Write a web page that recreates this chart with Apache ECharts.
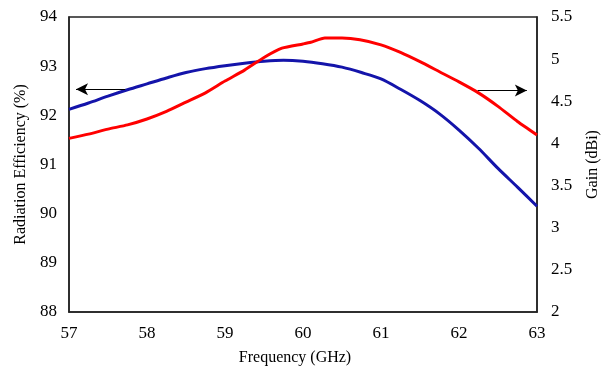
<!DOCTYPE html>
<html>
<head>
<meta charset="utf-8">
<script src="https://cdn.jsdelivr.net/npm/echarts@6/dist/echarts.min.js"></script>
<style>html,body{margin:0;padding:0;background:#fff}#c{width:614px;height:371px}</style>
</head>
<body>
<div id="c"></div>
<script>
// Frequency (GHz) sample points and values
const effFreq = [57, 57.25, 57.5, 57.75, 58, 58.25, 58.5, 58.75, 59, 59.25, 59.5, 59.75, 60, 60.25, 60.5, 60.75, 61, 61.25, 61.5, 61.75, 62, 62.25, 62.5, 62.75, 63];
const efficiency = [92.12, 92.25, 92.39, 92.52, 92.64, 92.76, 92.87, 92.95, 93.01, 93.06, 93.10, 93.12, 93.10, 93.05, 92.98, 92.87, 92.74, 92.53, 92.30, 92.03, 91.70, 91.33, 90.92, 90.54, 90.15];
const gainFreq = [57, 57.25, 57.5, 57.75, 58, 58.25, 58.5, 58.75, 59, 59.25, 59.5, 59.73, 60, 60.1, 60.28, 60.5, 60.73, 61, 61.25, 61.5, 61.75, 62, 62.25, 62.5, 62.75, 63];
const gain = [4.06, 4.11, 4.17, 4.22, 4.29, 4.38, 4.49, 4.60, 4.74, 4.87, 5.02, 5.13, 5.18, 5.20, 5.25, 5.25, 5.23, 5.17, 5.08, 4.97, 4.85, 4.73, 4.60, 4.44, 4.26, 4.10];
// arrow annotations [fromX, toX, y]
const effArrow = [57.72, 57.09, 92.53];
const gainArrow = [62.24, 62.87, 4.628];

const font = 'Liberation Serif';
const chart = echarts.init(document.getElementById('c'), null, {renderer: 'canvas'});
const zip = (xs, ys) => xs.map((x, i) => [x, ys[i]]);
const arrowLine = (a) => ({
  silent: true,
  symbol: ['none', 'arrow'],
  symbolSize: [9, 12],
  lineStyle: {color: '#000', width: 1, type: 'solid'},
  label: {show: false},
  emphasis: {disabled: true},
  data: [[{coord: [a[0], a[2]]}, {coord: [a[1], a[2]]}]]
});
chart.setOption({
  animation: false,
  backgroundColor: '#fff',
  textStyle: {fontFamily: font},
  grid: {left: 69, right: 77, top: 17, bottom: 57, show: true, borderColor: '#222', borderWidth: 1.5, backgroundColor: 'transparent'},
  xAxis: {
    type: 'value', min: 57, max: 63, interval: 1,
    name: 'Frequency (GHz)', nameLocation: 'middle', nameGap: 38,
    nameTextStyle: {fontFamily: font, fontSize: 16, color: '#000', padding: [0, 16, 0, 0]},
    axisLine: {show: true, lineStyle: {color: '#222', width: 1.5}},
    axisTick: {show: false},
    splitLine: {show: false},
    axisLabel: {fontFamily: font, fontSize: 17, color: '#000', margin: 13}
  },
  yAxis: [{
    type: 'value', min: 88, max: 94, interval: 1, position: 'left',
    name: 'Radiation Efficiency (%)', nameLocation: 'middle', nameGap: 37,
    nameTextStyle: {fontFamily: font, fontSize: 16, color: '#000'},
    axisLine: {show: true, lineStyle: {color: '#222', width: 1.5}},
    axisTick: {show: false},
    splitLine: {show: false},
    axisLabel: {fontFamily: font, fontSize: 17, color: '#000', margin: 12}
  }, {
    type: 'value', min: 2, max: 5.5, interval: 0.5, position: 'right',
    name: 'Gain (dBi)', nameLocation: 'middle', nameGap: 48,
    nameTextStyle: {fontFamily: font, fontSize: 16, color: '#000'},
    axisLine: {show: true, lineStyle: {color: '#222', width: 1.5}},
    axisTick: {show: false},
    splitLine: {show: false},
    axisLabel: {fontFamily: font, fontSize: 17, color: '#000', margin: 14}
  }],
  series: [{
    type: 'line', yAxisIndex: 0, data: zip(effFreq, efficiency),
    smooth: 0.3, showSymbol: false, symbol: 'none',
    lineStyle: {color: '#1414aa', width: 3}, itemStyle: {color: '#1414aa'},
    markLine: arrowLine(effArrow)
  }, {
    type: 'line', yAxisIndex: 1, data: zip(gainFreq, gain),
    smooth: 0.2, showSymbol: false, symbol: 'none',
    lineStyle: {color: '#ff0000', width: 3}, itemStyle: {color: '#ff0000'},
    markLine: arrowLine(gainArrow)
  }]
});
</script>
</body>
</html>
